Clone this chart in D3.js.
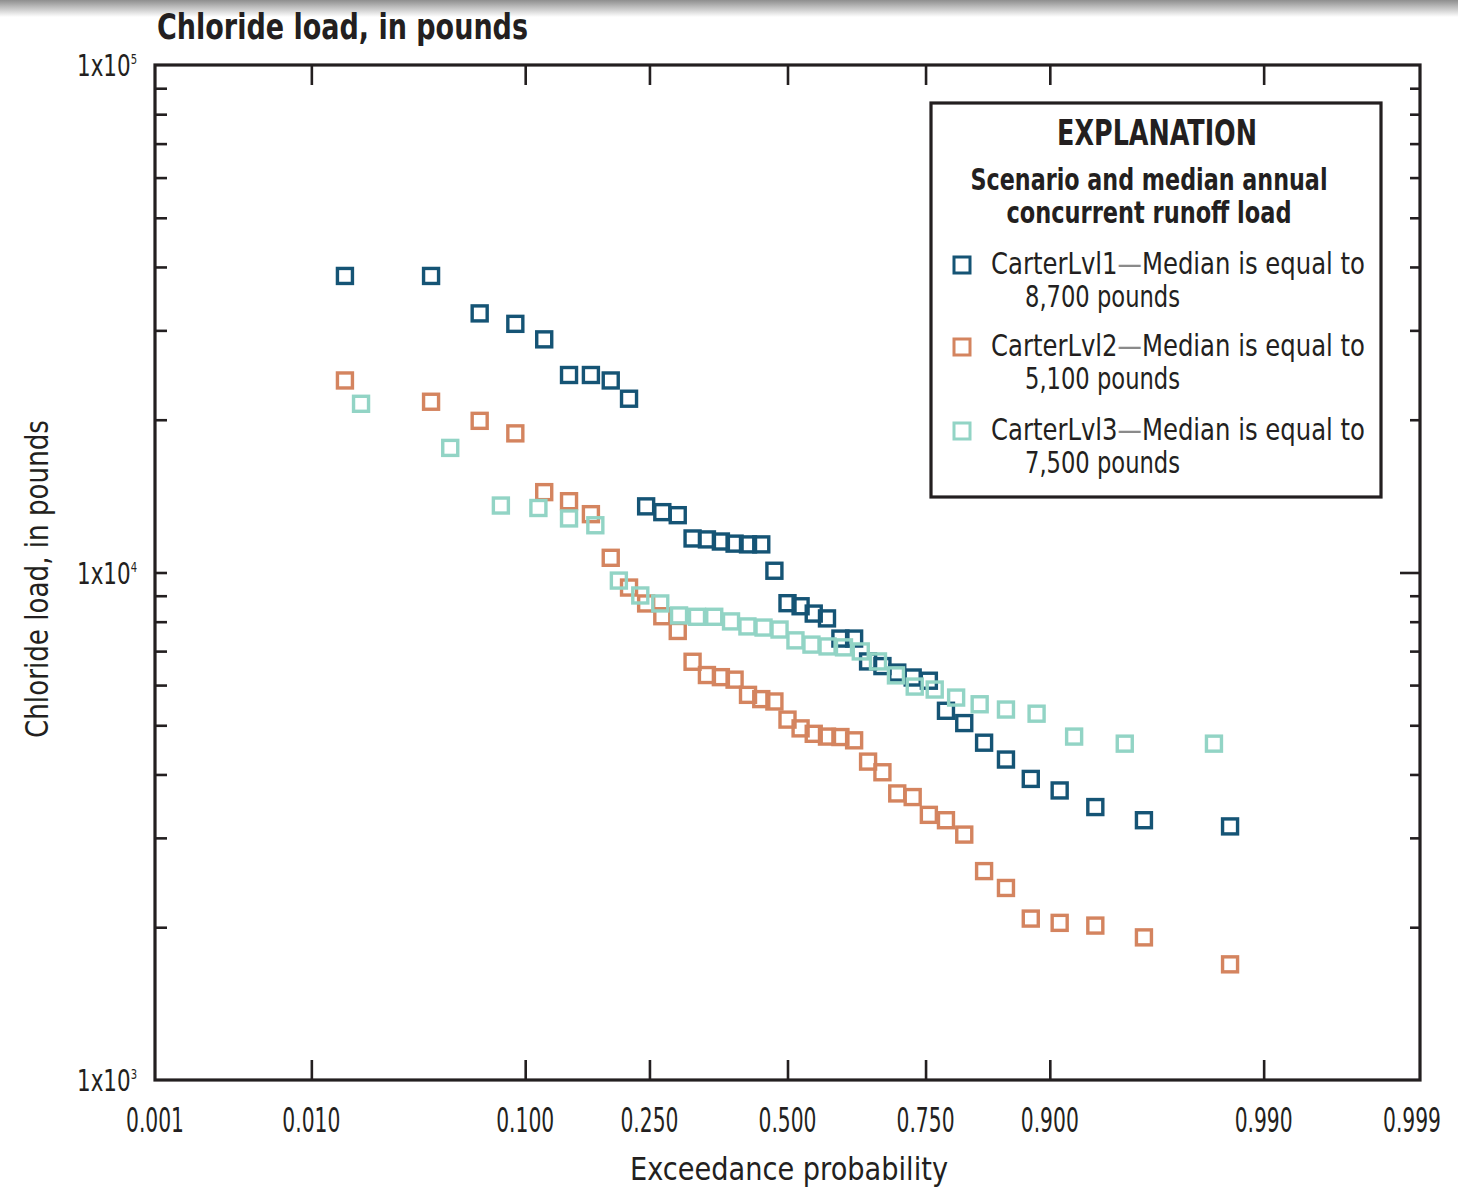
<!DOCTYPE html>
<html>
<head>
<meta charset="utf-8">
<script src="https://cdn.jsdelivr.net/npm/d3@7"></script>
<style>
  body { margin: 0; background: #fff; }
  svg { display: block; }
  text { font-family: "Liberation Sans Narrow", "DejaVu Sans Condensed", "Liberation Sans", sans-serif; fill: #231f20; }
</style>
</head>
<body>
<script>
var chartWidth = 1458;
var chartHeight = 1188;

// exceedance probabilities (plotting positions)
var probLvl12 = [0.0153, 0.0408, 0.0663, 0.0918, 0.1173, 0.1429, 0.1684, 0.1939, 0.2194, 0.2449,
    0.2704, 0.2959, 0.3214, 0.3469, 0.3724, 0.3980, 0.4235, 0.4490, 0.4745, 0.5000,
    0.5255, 0.5510, 0.5765, 0.6020, 0.6276, 0.6531, 0.6786, 0.7041, 0.7296, 0.7551,
    0.7806, 0.8061, 0.8316, 0.8571, 0.8827, 0.9082, 0.9337, 0.9592, 0.9847];
var probLvl3 = [0.0186, 0.0497, 0.0807, 0.1118, 0.1429, 0.1739, 0.2050, 0.2360, 0.2671, 0.2981,
    0.3292, 0.3602, 0.3913, 0.4224, 0.4534, 0.4845, 0.5155, 0.5466, 0.5776, 0.6087,
    0.6398, 0.6708, 0.7019, 0.7329, 0.7640, 0.7950, 0.8261, 0.8571, 0.8882, 0.9193,
    0.9503, 0.9814];

// chloride loads, pounds
var loadLvl1 = [38400, 38400, 32400, 30900, 28800, 24500, 24500, 23900, 22000, 13500,
    13150, 12970, 11670, 11620, 11510, 11400, 11360, 11360, 10080, 8700,
    8580, 8300, 8120, 7410, 7410, 6680, 6540, 6350, 6210, 6120,
    5340, 5050, 4620, 4280, 3920, 3720, 3450, 3250, 3160];
var loadLvl2 = [23900, 21700, 19900, 18800, 14400, 13820, 13030, 10690, 9340, 8690,
    8200, 7670, 6670, 6280, 6220, 6150, 5740, 5630, 5570, 5130,
    4930, 4810, 4750, 4740, 4670, 4240, 4040, 3670, 3610, 3330,
    3250, 3045, 2580, 2390, 2080, 2040, 2015, 1910, 1690];
var loadLvl3 = [21500, 17600, 13550, 13400, 12780, 12390, 9640, 9010, 8690, 8230,
    8180, 8180, 8010, 7830, 7790, 7720, 7350, 7210, 7150, 7120,
    6990, 6680, 6270, 5960, 5880, 5670, 5500, 5370, 5270, 4750,
    4600, 4600];

var xTicks = [0.001, 0.010, 0.100, 0.250, 0.500, 0.750, 0.900, 0.990, 0.999];
var yMajor = [1e3, 1e4, 1e5];
var yExp = ["3", "4", "5"];
var yMinor = [2e3, 3e3, 4e3, 5e3, 6e3, 7e3, 8e3, 9e3, 2e4, 3e4, 4e4, 5e4, 6e4, 7e4, 8e4, 9e4];

var seriesNames = ["CarterLvl1", "CarterLvl2", "CarterLvl3"];
var seriesMedians = ["8,700", "5,100", "7,500"];
var seriesColors = ["#155475", "#d4845f", "#92d4c5"];

var plotLeft = 155, plotRight = 1420, plotTop = 65, plotBottom = 1080;

// inverse standard normal (Acklam)
function probit(p) {
    var a = [-39.69683028665376, 220.9460984245205, -275.9285104469687, 138.3577518672690, -30.66479806614716, 2.506628277459239];
    var b = [-54.47609879822406, 161.5858368580409, -155.6989798598866, 66.80131188771972, -13.28068155288572];
    var c = [-0.007784894002430293, -0.3223964580411365, -2.400758277161838, -2.549732539343734, 4.374664141464968, 2.938163982698783];
    var d = [0.007784695709041462, 0.3224671290700398, 2.445134137142996, 3.754408661907416];
    var q, r;
    if (p < 0.02425) {
        q = Math.sqrt(-2 * Math.log(p));
        return (((((c[0]*q+c[1])*q+c[2])*q+c[3])*q+c[4])*q+c[5]) / ((((d[0]*q+d[1])*q+d[2])*q+d[3])*q+1);
    }
    if (p > 1 - 0.02425) {
        q = Math.sqrt(-2 * Math.log(1 - p));
        return -(((((c[0]*q+c[1])*q+c[2])*q+c[3])*q+c[4])*q+c[5]) / ((((d[0]*q+d[1])*q+d[2])*q+d[3])*q+1);
    }
    q = p - 0.5;
    r = q * q;
    return (((((a[0]*r+a[1])*r+a[2])*r+a[3])*r+a[4])*r+a[5])*q / (((((b[0]*r+b[1])*r+b[2])*r+b[3])*r+b[4])*r+1);
}

var xz = d3.scaleLinear().domain([probit(0.001), probit(0.999)]).range([plotLeft, plotRight]);
var xp = function(p) { return xz(probit(p)); };
var y = d3.scaleLog().domain([1e3, 1e5]).range([plotBottom, plotTop]);

var svg = d3.select("body").append("svg")
    .attr("width", chartWidth)
    .attr("height", chartHeight);

// scan shadow at the very top
var grad = svg.append("defs").append("linearGradient")
    .attr("id", "topShade").attr("x1", 0).attr("y1", 0).attr("x2", 0).attr("y2", 1);
grad.append("stop").attr("offset", 0).attr("stop-color", "#8e8e8e");
grad.append("stop").attr("offset", 1).attr("stop-color", "#ffffff");
svg.append("rect").attr("x", 0).attr("y", 0).attr("width", chartWidth).attr("height", 17)
    .attr("fill", "url(#topShade)");

// ticks via d3 axes (inward)
var xTickInner = xTicks.slice(1, -1).map(probit);
function cleanAxis(g) {
    g.select(".domain").remove();
    g.selectAll("line").attr("stroke", "#231f20").attr("stroke-width", 2.6);
    g.selectAll("text").remove();
}
svg.append("g").attr("transform", "translate(0," + plotBottom + ")")
    .call(d3.axisBottom(xz).tickValues(xTickInner).tickSizeInner(-20).tickSizeOuter(0))
    .call(cleanAxis);
svg.append("g").attr("transform", "translate(0," + plotTop + ")")
    .call(d3.axisTop(xz).tickValues(xTickInner).tickSizeInner(-20).tickSizeOuter(0))
    .call(cleanAxis);
svg.append("g").attr("transform", "translate(" + plotLeft + ",0)")
    .call(d3.axisLeft(y).tickValues(yMinor.concat([1e4])).tickSizeInner(-12).tickSizeOuter(0))
    .call(cleanAxis);
svg.append("g").attr("transform", "translate(" + plotRight + ",0)")
    .call(d3.axisRight(y).tickValues(yMinor).tickSizeInner(-10).tickSizeOuter(0))
    .call(cleanAxis);
svg.append("g").attr("transform", "translate(" + plotRight + ",0)")
    .call(d3.axisRight(y).tickValues([1e4]).tickSizeInner(-20).tickSizeOuter(0))
    .call(cleanAxis);

// frame
svg.append("rect")
    .attr("x", plotLeft).attr("y", plotTop)
    .attr("width", plotRight - plotLeft).attr("height", plotBottom - plotTop)
    .attr("fill", "none").attr("stroke", "#231f20").attr("stroke-width", 3.2);

// x tick labels
svg.append("g").selectAll("text").data(xTicks).join("text")
    .attr("x", function(d) { return Math.min(xp(d), 1412); })
    .attr("y", 1132)
    .attr("text-anchor", "middle")
    .attr("font-size", 33)
    .attr("textLength", 58)
    .attr("lengthAdjust", "spacingAndGlyphs")
    .text(function(d) { return d3.format(".3f")(d); });

// y tick labels, "1x10" with superscript exponent
yMajor.forEach(function(v, i) {
    var t = svg.append("text")
        .attr("x", 77).attr("y", y(v) + 11)
        .attr("font-size", 30)
        .attr("textLength", 60)
        .attr("lengthAdjust", "spacingAndGlyphs");
    t.append("tspan").text("1x10");
    t.append("tspan").attr("font-size", 14).attr("dy", -12).text(yExp[i]);
});

// titles
svg.append("text")
    .attr("x", 157).attr("y", 39)
    .attr("font-size", 36).attr("font-weight", "bold")
    .attr("textLength", 371).attr("lengthAdjust", "spacingAndGlyphs")
    .text("Chloride load, in pounds");

svg.append("text")
    .attr("transform", "translate(48,579) rotate(-90)")
    .attr("text-anchor", "middle")
    .attr("font-size", 32)
    .attr("textLength", 318).attr("lengthAdjust", "spacingAndGlyphs")
    .text("Chloride load, in pounds");

svg.append("text")
    .attr("x", 789).attr("y", 1180)
    .attr("text-anchor", "middle")
    .attr("font-size", 32)
    .attr("textLength", 318).attr("lengthAdjust", "spacingAndGlyphs")
    .text("Exceedance probability");

// points
var series = [
    { prob: probLvl12, load: loadLvl1 },
    { prob: probLvl12, load: loadLvl2 },
    { prob: probLvl3, load: loadLvl3 }
];
series.forEach(function(s, k) {
    svg.append("g").selectAll("rect")
        .data(d3.zip(s.prob, s.load))
        .join("rect")
        .attr("x", function(d) { return xp(d[0]) - 7.5; })
        .attr("y", function(d) { return y(d[1]) - 7.5; })
        .attr("width", 15)
        .attr("height", 15)
        .attr("fill", "none")
        .attr("stroke", seriesColors[k])
        .attr("stroke-width", 3.4);
});

// legend
var legend = svg.append("g");
legend.append("rect")
    .attr("x", 931).attr("y", 103).attr("width", 450).attr("height", 394)
    .attr("fill", "#fff").attr("stroke", "#231f20").attr("stroke-width", 3.2);

function legendText(x, yy, str, size, len, anchor, bold) {
    return legend.append("text")
        .attr("x", x).attr("y", yy)
        .attr("text-anchor", anchor)
        .attr("font-size", size)
        .attr("font-weight", bold ? "bold" : "normal")
        .attr("textLength", len).attr("lengthAdjust", "spacingAndGlyphs")
        .text(str);
}
legendText(1157, 145, "EXPLANATION", 35, 200, "middle", true);
legendText(1149, 190, "Scenario and median annual", 30, 357, "middle", true);
legendText(1149, 223, "concurrent runoff load", 30, 285, "middle", true);

var entryY = [265, 347, 431];
seriesNames.forEach(function(name, k) {
    var cy = entryY[k];
    legend.append("rect")
        .attr("x", 954).attr("y", cy - 8).attr("width", 16).attr("height", 16)
        .attr("fill", "none").attr("stroke", seriesColors[k]).attr("stroke-width", 3);
    var t = legend.append("text")
        .attr("x", 991).attr("y", cy + 9)
        .attr("font-size", 31)
        .attr("textLength", 374).attr("lengthAdjust", "spacingAndGlyphs");
    t.append("tspan").text(name);
    t.append("tspan").attr("fill", "#8a8a8a").text("\u2014");
    t.append("tspan").text("Median is equal to");
    legendText(1025, cy + 42, seriesMedians[k] + " pounds", 31, 155, "start", false);
});
</script>
</body>
</html>
